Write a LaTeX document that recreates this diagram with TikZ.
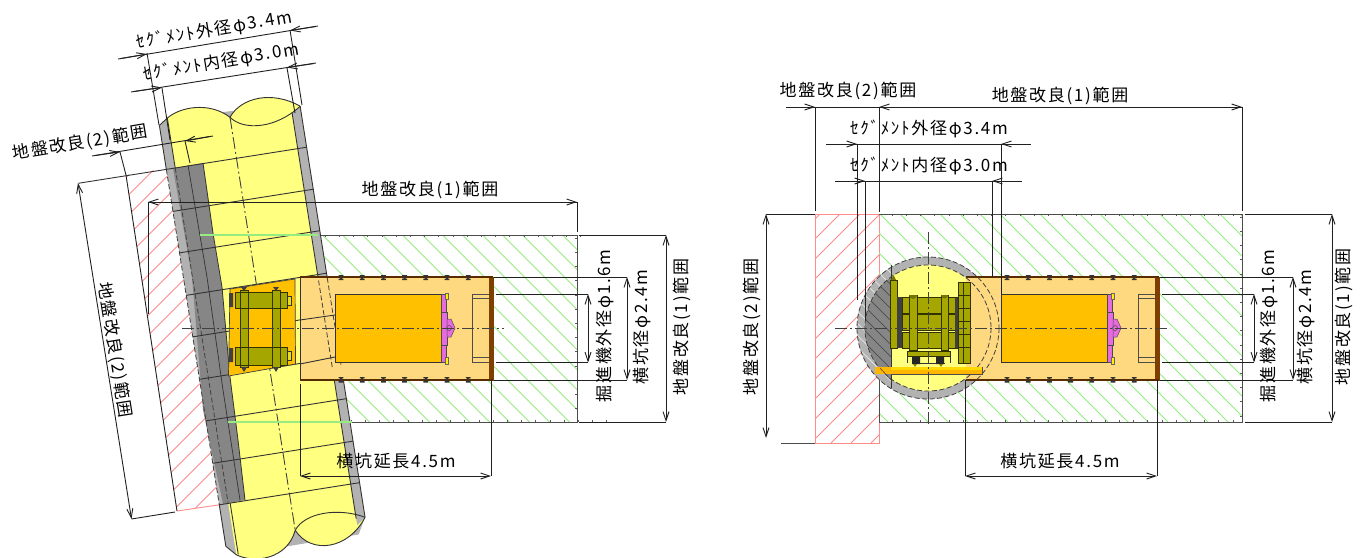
\documentclass[tikz,border=0pt]{standalone}
\usepackage{fontspec}
\setmainfont{Noto Sans CJK JP}
\newfontfamily\jpf[LetterSpace=10]{Noto Sans CJK JP}
\usetikzlibrary{arrows.meta}
\definecolor{tubey}{HTML}{FFFF80}
\definecolor{tubeg}{HTML}{B2B2B2}
\definecolor{tubed}{HTML}{868686}
\definecolor{mach}{HTML}{FFC000}
\definecolor{tunl}{HTML}{FFD980}
\definecolor{oliv}{HTML}{A6A600}
\definecolor{brwn}{HTML}{7F3F00}
\definecolor{pnk}{HTML}{E86AE0}
\definecolor{hgr}{HTML}{96EC80}
\definecolor{hpk}{HTML}{FF8C8C}
\definecolor{ink}{HTML}{202020}
\tikzset{
  lbl/.style={font=\jpf\fontsize{17}{18}\selectfont,inner sep=0pt,text=black},
  dim/.style={draw=ink,line width=0.9pt},
  dimboth/.style={dim,{Straight Barb[length=9pt,width=6pt]}-{Straight Barb[length=9pt,width=6pt]}},
  dimend/.style={dim,-{Straight Barb[length=9pt,width=6pt]}},
  ext/.style={draw=ink,line width=0.9pt},
  ctr/.style={draw=black!75,line width=0.9pt,dash pattern=on 12pt off 3pt on 2pt off 3pt},
  edge/.style={draw=black!80,line width=0.9pt},
  dsh/.style={draw=black!75,line width=0.8pt,dash pattern=on 5pt off 2.5pt},
  ol/.style={fill=oliv,draw=black!70!oliv,line width=0.9pt},
  hatchg/.style={draw=hgr,line width=0.9pt},
  hatchp/.style={draw=hpk,line width=0.9pt},
  tilt/.style={shift={(230,117.3)},x={(0.988pt,0.156pt)},y={(0.156pt,-0.988pt)}},
}
\newcommand{\tunnelbody}{%
  \fill[tunl] (300,277) rectangle (491,380);
}
\newcommand{\tunnelparts}{%
  \draw[fill=mach,draw=black!80,line width=0.8pt] (335.5,294) rectangle (441,362.5);
  \draw[fill=pnk,draw=black!70,line width=0.5pt] (441,294) rectangle (446,362.5);
  \draw[fill=pnk,draw=black!70,line width=0.5pt] (441,312) rectangle (447,345);
  \draw[fill=pnk,draw=black!70,line width=0.5pt] (447,319) -- (451,319) -- (455,328) -- (451,337) -- (447,337) -- cycle;
  \draw[draw=black!70,line width=0.5pt] (449,328) circle (2.5);
  \draw[fill=yellow,draw=black!60,line width=0.4pt] (445,293.5) rectangle (448,299.5);
  \draw[fill=yellow,draw=black!60,line width=0.4pt] (445,357.5) rectangle (448,364);
  \draw[fill=tunl,draw=black!70,line width=0.7pt] (489,294) -- (472,294) -- (472,362.5) -- (489,362.5);
  \draw[black!70,line width=0.7pt] (472,298) -- (489,298) (472,357) -- (489,357);
  \fill[brwn] (489,277) rectangle (493.5,380.5);
  \draw[brwn!70!black,line width=1.6pt] (\tunleft,277) -- (493,277) (\tunleft,380) -- (493,380);
  \foreach \bx in {341,362.2,383.4,404.6,425.8,447,468.2}{
    \fill[black!80] (\bx-2.4,275) rectangle (\bx+2.4,276.3) (\bx-1,275) rectangle (\bx+1,279.5) (\bx-2.4,278.5) rectangle (\bx+2.4,280);
    \fill[black!80] (\bx-2.4,377) rectangle (\bx+2.4,378.3) (\bx-1,377) rectangle (\bx+1,382) (\bx-2.4,381) rectangle (\bx+2.4,382.5);
  }
  \draw[ext] (493.5,277) -- (627,277) (493.5,380) -- (627,380);
  \draw[ext] (496,294) -- (588,294) (496,362.5) -- (588,362.5);
  \draw[dimboth] (588,294) -- (588,362.5);
  \draw[dimboth] (627,277) -- (627,380);
  \draw[dimboth] (666,\rtop) -- (666,422);
  \draw[ext] (578.5,\rtop) -- (666,\rtop) (578.5,422) -- (666,422);
}
\begin{document}
\begin{tikzpicture}[x=1pt,y=-1pt]
\useasboundingbox (0,0) rectangle (1367,557);
\fill[white] (0,0) rectangle (1367,557);
%=========== LEFT VIEW ===========
\begin{scope}
  \clip (126,175) -- (177,511) -- (220,505) -- (168,168) -- cycle;
  \foreach \i in {103,123,...,703}{ \draw[hatchp] (\i,100.5) -- (\i-500,600.5); }
\end{scope}
\draw[hatchp] (177,511) -- (218,505);
\draw[ext] (126,175) -- (177,511);
\begin{scope}
  \clip (300,235) rectangle (577,422);
  \foreach \i in {63,83,...,583}{ \draw[hatchg] (\i,235.5) -- (\i+187,422.5); }
\end{scope}
\foreach \i in {0,...,18}{ \draw[black!65,line width=0.6pt] (325+14.2*\i,235) -- ++(0,2) (351+14.2*\i,422) -- ++(0,-2); }
\foreach \i in {0,...,12}{ \draw[black!65,line width=0.6pt] (577,238+14.2*\i) -- ++(-2,0); }
\draw[black!70,line width=0.8pt] (318,235) -- (577,235) -- (577,422) -- (349,422);
\begin{scope}[tilt]
  \fill[tubeg] (-71,-3) -- (-62,-9) -- (62,-3) -- (71,0) -- (71,416) -- (62,432) -- (-62,433) -- (-71,423) -- cycle;
  \fill[tubey] (-62,-9) .. controls (-48,-18) and (-18,-19) .. (0,0) .. controls (14,-18) and (46,-20) .. (71,0) .. controls (66,3) and (64,4) .. (62,5)
     -- (62,423) -- (71,416) .. controls (50,445) and (12,445) .. (0,418) .. controls (-12,445) and (-45,445) .. (-62,433) -- cycle;
\end{scope}
\fill[tubed] (173,168.5) -- (203,163) -- (213,233) -- (222,287) -- (230,377) -- (238,440) -- (245,500) -- (223,504) -- (203,410) -- (192,277) -- cycle;
\draw[black!80,line width=0.7pt] (188,165) -- (207,277) -- (223,390) -- (240,500);
\draw[black!80,line width=0.8pt] (203,163) -- (213,233) -- (222,287) -- (230,377) -- (238,440) -- (245,500);
\begin{scope}[tilt]
  \draw[edge] (-62,-9) .. controls (-48,-18) and (-18,-19) .. (0,0) .. controls (14,-18) and (46,-20) .. (71,0);
  \draw[edge] (0,0) .. controls (12,16) and (44,18) .. (71,0);
  \draw[edge] (71,416) .. controls (50,445) and (12,445) .. (0,418) .. controls (-12,445) and (-45,445) .. (-62,433) -- (-71,423);
  \draw[edge] (0,418) .. controls (12,402) and (46,402) .. (71,416);
  \draw[edge] (-71,-3) -- (-62,-9);
  \draw[edge] (-71,-3) -- (-71,41.5);
  \draw[dsh] (-71,41.5) -- (-71,381);
  \draw[edge] (-71,381) -- (-71,423);
  \draw[edge] (-62,-9) -- (-62,41.5);
  \draw[dsh] (-62,41.5) -- (-62,380);
  \draw[edge] (-60,381) -- (-60,433);
  \draw[edge] (62,5) -- (62,175) (71,0) -- (71,174);
  \draw[edge] (62,264) -- (62,416) (71,264) -- (71,416);
  \draw[ctr] (0,0) -- (0,418);
  \foreach \v in {84,126,169,211,254,296,339}{ \draw[edge] (-71,\v) -- (71,\v); }
  \draw[edge] (-160,41.5) -- (71,41.5);
  \draw[edge] (-71,381) -- (71,381);
\end{scope}
\draw[hatchg,line width=1.1pt] (200,235) -- (318,235) (228,422) -- (352,422);
\draw[fill=mach,draw=black!75,line width=0.7pt] (230,289) -- (295,279) -- (295.5,364) -- (228.5,376) -- cycle;
\draw[ol] (235,292) rectangle (287,308);
\draw[ol] (235,347) rectangle (287,365);
\draw[ol] (240,290) rectangle (248,367);
\draw[ol] (272,290) rectangle (280,367);
\draw[black!70!oliv,line width=0.9pt] (240,292) -- (248,292) (240,308) -- (248,308) (240,347) -- (248,347) (240,365) -- (248,365) (272,308) -- (280,308) (272,347) -- (280,347);
\fill[black!75] (229,293) rectangle (233,307) (229,348) rectangle (233,362) (241,287) -- (247,287) -- (244,291) (273,287) -- (279,287) -- (276,291) (241,367) -- (247,367) -- (244,372) -- cycle (273,367) -- (279,367) -- (276,372) -- cycle;
\draw[fill=yellow!70!oliv,draw=black!80,line width=0.7pt] (287.5,296) rectangle (291,305) (287.5,351) rectangle (291,360);
\def\tunleft{300}\def\rtop{235}
\tunnelbody
\draw[edge] (300,277) -- (300,380);
\begin{scope}[tilt]
  \draw[dsh] (62,175) -- (62,264) (71,174) -- (71,264);
\end{scope}
\draw[edge] (300,320) -- (335,315) (300,364) -- (335,357);
\tunnelparts
\draw[ctr] (182,328) -- (504,328);
\draw[dimend] (577,202) -- (148,202);
\draw[dimend] (148,202) -- (577,202);
\draw[ext] (577,202) -- (577,232) (148,202) -- (148,314);
\draw[dimboth] (300,476) -- (491,476);
\draw[ext] (491,380) -- (491,476) (300,384) -- (300,476);
\draw[dim] (118,59) -- (318,26);
\draw[dimend] (121,58.5) -- (147,54);
\draw[dimend] (316,26.5) -- (290,30.5);
\draw[ext] (147,53) -- (159,125) (290,30) -- (302,105);
\draw[dim] (131,92) -- (316,63);
\draw[dimend] (134,91.5) -- (162,87.5);
\draw[dimend] (314,63.5) -- (287,67.5);
\draw[ext] (162,88) -- (170,140) (287,68) -- (295,113);
\draw[dim] (92,156) -- (213,136);
\draw[dimend] (95,155.5) -- (120,152);
\draw[dimend] (210,136.5) -- (185,141);
\draw[ext] (120,152) -- (126,175) (185,141) -- (190,163);
\draw[dimboth] (78,183) -- (131.5,519);
\draw[ext] (131.5,519) -- (175,512);
\node[lbl,rotate=9.5] (a1) at (214,30) {ｾｸﾞﾒﾝﾄ外径φ3.4m};
\node[lbl,rotate=9.5] (a2) at (221,62) {ｾｸﾞﾒﾝﾄ内径φ3.0m};
\node[lbl,rotate=9.5] (a3) at (80,143) {地盤改良(2)範囲};
\node[lbl,rotate=-81] (a4) at (115,350) {地盤改良(2)範囲};
\node[lbl] (a5) at (430,190) {地盤改良(1)範囲};
\node[lbl] (a6) at (396,461) {横坑延長4.5m};
\node[lbl,rotate=90] (a7) at (605,326) {掘進機外径φ1.6m};
\node[lbl,rotate=90] (a8) at (642,327) {横坑径φ2.4m};
\node[lbl,rotate=90] (a9) at (682,327) {地盤改良(1)範囲};
%=========== RIGHT VIEW ===========
\begin{scope}
  \clip (815,214) rectangle (879,443);
  \foreach \i in {820,840,...,1120}{ \draw[hatchp] (\i,214) -- (\i-229,443); }
\end{scope}
\draw[hatchp] (815,214) -- (815,443) -- (879,443) -- (879,422);
\draw[hatchp] (815,214) -- (879,214) -- (879,275);
\begin{scope}
  \clip (879,214) rectangle (1242,422);
  \foreach \i in {680,700,...,1240}{ \draw[hatchg] (\i,214) -- (\i+208,422); }
\end{scope}
\foreach \i in {0,...,24}{ \draw[black!65,line width=0.6pt] (892+14.2*\i,214) -- ++(0,2) (892+14.2*\i,422) -- ++(0,-2); }
\foreach \i in {0,...,14}{ \draw[black!65,line width=0.6pt] (1242,217+14.2*\i) -- ++(-2,0); }
\draw[black!70,line width=0.8pt] (879,214) -- (1242,214) -- (1242,422) -- (879,422) -- (879,380);
\draw[black!70,line width=0.8pt] (781,443) -- (815,443);
\fill[tubeg] (928,328) circle (71);
\fill[tubey] (928,328) circle (63);
\begin{scope}
  \clip (850,250) rectangle (891,410);
  \begin{scope}
    \clip (928,328) circle (71);
    \foreach \i in {700,712,...,900}{ \draw[white!60!tubeg,line width=0.8pt] (\i,250) -- (\i+160,410); }
    \clip (928,328) circle (63);
    \fill[tubed] (850,250) rectangle (891,410);
    \foreach \i in {700,712,...,900}{ \draw[black!70,line width=0.7pt] (\i,250) -- (\i+160,410); }
  \end{scope}
\end{scope}
\begin{scope}[shift={(666,0)}]
  \def\tunleft{300}\def\rtop{214}
  \tunnelbody
  \tunnelparts
\end{scope}
\draw[dsh] (928,328) circle (71);
\draw[dsh] (928,328) circle (63);
\draw[edge] (891,265) -- (891,388);
\fill[mach!85!orange] (875,367) -- (982,367) -- (982,374) -- (875,374) -- cycle;
\fill[mach!60!yellow] (891,367) rectangle (982,370);
\draw[black!70,line width=0.6pt] (982,367) -- (982,374) -- (891,374);
\draw[black!70,line width=0.6pt] (880,368) -- (891,380);
\draw[ol] (890,280) rectangle (897,348);
\fill[oliv!70!black] (891,280) -- (893.5,275) -- (896,280) -- cycle;
\fill[black!75] (897,297) rectangle (902,348);
\foreach \my in {297,314,332}{ \draw[ol] (902,\my) rectangle (959,\my+16.5); }
\draw[ol] (909,295) rectangle (917,350);
\draw[ol] (941,295) rectangle (948,350);
\fill[oliv!70!black] (909,295) arc (180:0:4) -- cycle (941,295) arc (180:0:3.5) -- cycle;
\fill[black!75] (955,298) rectangle (959,348);
\draw[ol] (958,282) rectangle (970,363);
\foreach \my in {295,308,321,334,347}{ \draw[black!70!oliv,line width=0.9pt] (958,\my) -- (970,\my); }
\draw[black!70!oliv,line width=0.9pt] (963,282) -- (963,363);
\draw[ol] (907,351) rectangle (950,356);
\draw[black!80,line width=1pt] (907,356) -- (907,363) (950,356) -- (950,363) (912,363) -- (945,363);
\fill[black!85] (912,357) rectangle (920,364) (936,357) rectangle (944,364);
\fill[oliv!80!black] (913,364) -- (915,367) -- (917,364) -- cycle (939,364) -- (941,367) -- (943,364) -- cycle;
\draw[ctr] (835,328) -- (1170,328);
\draw[ctr] (928,232) -- (928,425);
\draw[dim] (786,107) -- (1242,107);
\draw[dimend] (790,107) -- (815,107);
\draw[dimend] (900,107) -- (879,107);
\draw[dimend] (1215,107) -- (1242,107);
\draw[ext] (815,107) -- (815,211) (879,107) -- (879,212) (1242,107) -- (1242,211);
\draw[dim] (826,144) -- (1031,144);
\draw[dimend] (832,144) -- (857,144);
\draw[dimend] (1025,144) -- (1001,144);
\draw[ext] (857,144) -- (857,300) (1001,144) -- (1001,294);
\draw[dim] (835,181) -- (1022,181);
\draw[dimend] (840,181) -- (865,181);
\draw[dimend] (1016,181) -- (992,181);
\draw[ext] (865,181) -- (865,320) (992,181) -- (992,277);
\draw[dimboth] (766,214) -- (766,438);
\draw[ext] (766,214) -- (815,214);
\draw[dimboth] (965,476) -- (1157,476);
\draw[ext] (965,380) -- (965,476) (1157,380) -- (1157,476);
\node[lbl] (b1) at (848,91) {地盤改良(2)範囲};
\node[lbl] (b2) at (1060,96) {地盤改良(1)範囲};
\node[lbl] (b3) at (929,129) {ｾｸﾞﾒﾝﾄ外径φ3.4m};
\node[lbl] (b4) at (929,166) {ｾｸﾞﾒﾝﾄ内径φ3.0m};
\node[lbl,rotate=90] (b5) at (752,327) {地盤改良(2)範囲};
\node[lbl] (b6) at (1060,461) {横坑延長4.5m};
\node[lbl,rotate=90] (b7) at (1269,326) {掘進機外径φ1.6m};
\node[lbl,rotate=90] (b8) at (1306,327) {横坑径φ2.4m};
\node[lbl,rotate=90] (b9) at (1344,317) {地盤改良(1)範囲};
\end{tikzpicture}
\end{document}
